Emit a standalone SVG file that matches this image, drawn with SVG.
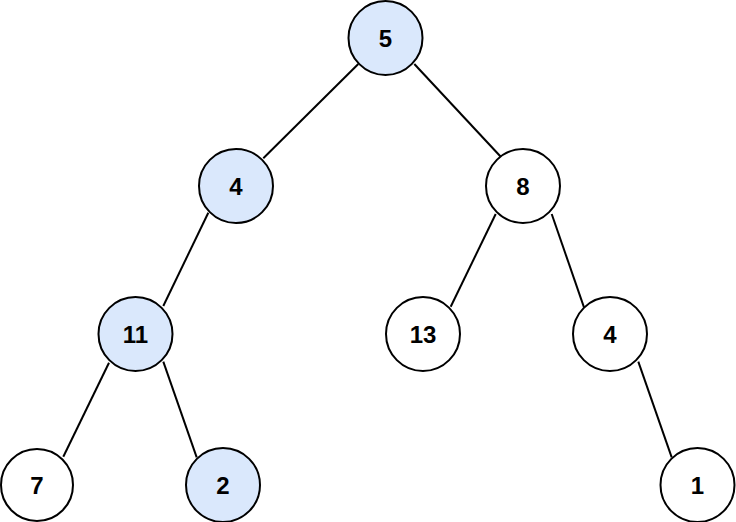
<svg xmlns="http://www.w3.org/2000/svg" width="736" height="522" viewBox="0 0 736 522">
<style>
.n{stroke:#000;stroke-width:2;fill:#fff}
.h{fill:#dae8fc}
.t{font-family:"Liberation Sans",Arial,sans-serif;font-weight:bold;font-size:24px;fill:#000;text-anchor:middle;dominant-baseline:central}
.e{stroke:#000;stroke-width:2;fill:none}
</style>
<rect width="736" height="522" fill="#fff"/>
<g id="connectors">
<line class="e" x1="358.3" y1="64" x2="263.3" y2="158.3"/>
<line class="e" x1="414.3" y1="64" x2="501" y2="157"/>
<line class="e" x1="208.3" y1="212.7" x2="163.3" y2="306"/>
<line class="e" x1="495.7" y1="214" x2="450.7" y2="306.7"/>
<line class="e" x1="551.7" y1="214" x2="584" y2="307.3"/>
<line class="e" x1="109" y1="362.7" x2="63.3" y2="456.7"/>
<line class="e" x1="163.3" y1="361.7" x2="196.7" y2="457.3"/>
<line class="e" x1="638.3" y1="361.7" x2="671.7" y2="457.3"/>
</g>
<g id="n5"><circle class="n h" cx="385.5" cy="38" r="37"/><text class="t" x="385.5" y="38">5</text></g>
<g id="n4"><circle class="n h" cx="236" cy="186" r="37"/><text class="t" x="236" y="186">4</text></g>
<g id="n8"><circle class="n" cx="523" cy="186" r="37"/><text class="t" x="523" y="186">8</text></g>
<g id="n11"><circle class="n h" cx="135.5" cy="334" r="37"/><text class="t" x="135.5" y="334">11</text></g>
<g id="n13"><circle class="n" cx="423" cy="334" r="37"/><text class="t" x="423" y="334">13</text></g>
<g id="n4b"><circle class="n" cx="610" cy="334" r="37"/><text class="t" x="610" y="334">4</text></g>
<g id="n7"><circle class="n" cx="37" cy="485" r="36"/><text class="t" x="37" y="485">7</text></g>
<g id="n2"><circle class="n h" cx="223" cy="485" r="37"/><text class="t" x="223" y="485">2</text></g>
<g id="n1"><circle class="n" cx="697.5" cy="485" r="37"/><text class="t" x="697.5" y="485">1</text></g>
</svg>
